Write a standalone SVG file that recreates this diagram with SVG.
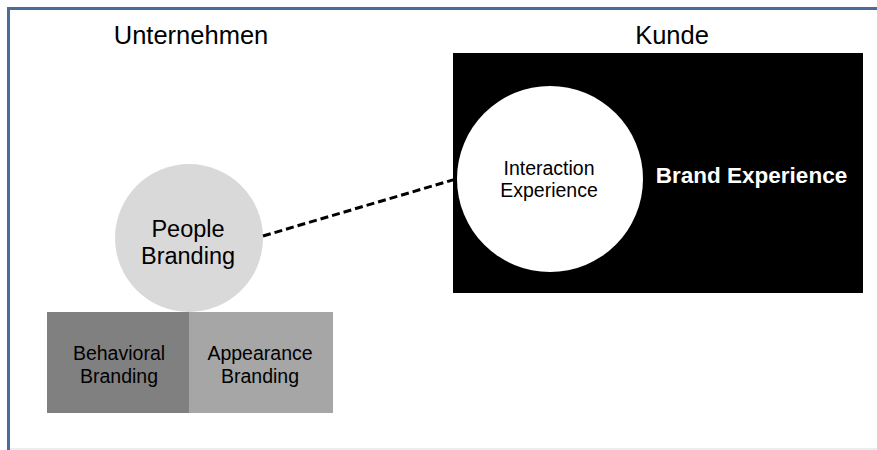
<svg xmlns="http://www.w3.org/2000/svg" width="877" height="450" viewBox="0 0 877 450">
<style>
text{font-family:"Liberation Sans",Arial,sans-serif;text-anchor:middle;fill:#000}
.title{font-size:25.5px}
.lbl{font-size:19.5px}
.big{font-size:23.5px}
.bold{font-size:22.5px;font-weight:bold;fill:#fff}
.conn{stroke:#000;stroke-width:3;stroke-dasharray:8,4;fill:none}
</style>
<rect x="0" y="0" width="877" height="450" fill="#fff"/>
<g id="frame">
<line x1="8.5" y1="8.5" x2="877" y2="8.5" stroke="#4a6b9c" stroke-width="3"/>
<line x1="8.5" y1="7" x2="8.5" y2="450" stroke="#4a6b9c" stroke-width="3"/>
<line x1="10" y1="449" x2="877" y2="449" stroke="#e4e7ea" stroke-width="1.5"/>
</g>
<g id="titles">
<text class="title" x="191" y="44">Unternehmen</text>
<text class="title" x="672" y="44">Kunde</text>
</g>
<g id="brand-experience">
<rect x="453" y="53" width="410" height="240" fill="#000"/>
<text class="bold" x="751.5" y="183">Brand Experience</text>
</g>
<g id="interaction-experience">
<circle cx="550" cy="179" r="93" fill="#fff"/>
<text class="lbl" x="549" y="175">Interaction</text>
<text class="lbl" x="549" y="197">Experience</text>
</g>
<g id="behavioral-branding">
<rect x="47" y="312" width="142" height="101" fill="#808080"/>
<text class="lbl" x="119" y="360">Behavioral</text>
<text class="lbl" x="119" y="383">Branding</text>
</g>
<g id="appearance-branding">
<rect x="189" y="312" width="144" height="101" fill="#a6a6a6"/>
<text class="lbl" x="260" y="360">Appearance</text>
<text class="lbl" x="260" y="383">Branding</text>
</g>
<g id="people-branding">
<circle cx="189" cy="238" r="74" fill="#d9d9d9"/>
<text class="big" x="188" y="237">People</text>
<text class="big" x="188" y="264">Branding</text>
</g>
<g id="connectors">
<line class="conn" x1="263" y1="236" x2="456" y2="179"/>
</g>
</svg>
